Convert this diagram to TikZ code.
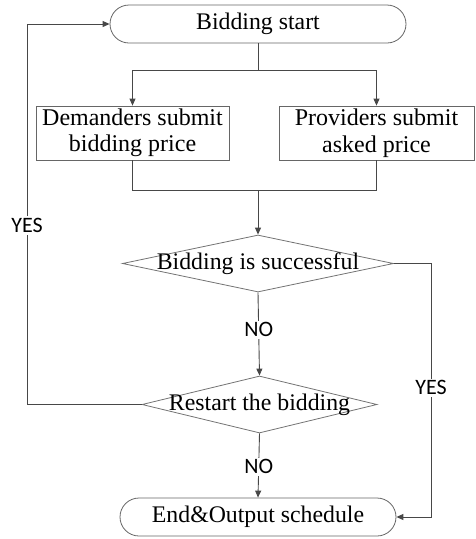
\documentclass[tikz,border=0pt]{standalone}
\usepackage{fontspec}
\setmainfont{Liberation Serif}
\newfontfamily\labelfont{Carlito}
\usetikzlibrary{arrows.meta,shapes.geometric,calc}
\begin{document}
\begin{tikzpicture}[x=1pt,y=-1pt,
  line/.style={draw=black!72,line width=0.9pt},
  arr/.style={line,-{Triangle[length=7pt,width=6pt]}},
  term/.style={draw=black!60,line width=0.8pt,rounded corners=19pt,minimum height=38pt,inner sep=0pt,
    font=\fontsize{23.8}{26.5}\selectfont},
  procbox/.style={draw=black!60,line width=0.8pt,minimum height=54pt,inner sep=0pt,align=center,
    font=\fontsize{24}{26.5}\selectfont},
  decision/.style={diamond,draw=black!55,line width=0.8pt,inner sep=0pt,minimum height=57pt},
  dtext/.style={font=\fontsize{23.8}{26}\selectfont,inner sep=0pt},
  ans/.style={fill=white,inner sep=2pt,font=\labelfont\fontsize{22}{24}\selectfont}]
\useasboundingbox (0,0) rectangle (475,539);

% nodes
\node[term,minimum width=296pt] (start) at (258,24) {Bidding start};
\node[procbox,minimum width=193pt] (dem) at (132.5,133) {Demanders submit\\bidding price};
\node[procbox,minimum width=195pt] (pro) at (376.5,133) {Providers submit\\asked price};
\node[decision,minimum width=271pt] (succ) at (258,263.5) {};
\node[dtext] at (succ.center) {Bidding is successful};
\node[decision,minimum width=235pt] (restart) at (259.5,404.5) {};
\node[dtext] at (restart.center) {Restart the bidding};
\node[term,minimum width=276pt] (finish) at (258,517) {End\&Output schedule};

% junction points
\coordinate (split) at (258,70);
\coordinate (merge) at (258,190);
\coordinate (leftrail) at (27,404.5);
\coordinate (rightrail) at (431,263.5);

% connectors
\draw[line] (start.south) -- (split);
\draw[arr] (split) -| (dem.north);
\draw[arr] (split) -| (pro.north);
\draw[line] (dem.south) |- (merge);
\draw[line] (pro.south) |- (merge);
\draw[arr] (merge) -- (succ.north);
\draw[arr] (succ.south) -- (restart.north) node[ans,pos=0.45] {NO};
\draw[arr] (restart.south) -- (finish.north) node[ans,pos=0.52] {NO};
\draw[arr] (restart.west) -- (leftrail) -- node[ans,pos=0.47] {YES} (leftrail |- start.west) -- (start.west);
\draw[arr] (succ.east) -- (rightrail) -- node[ans,pos=0.49] {YES} (rightrail |- finish.east) -- (finish.east);
\end{tikzpicture}
\end{document}
